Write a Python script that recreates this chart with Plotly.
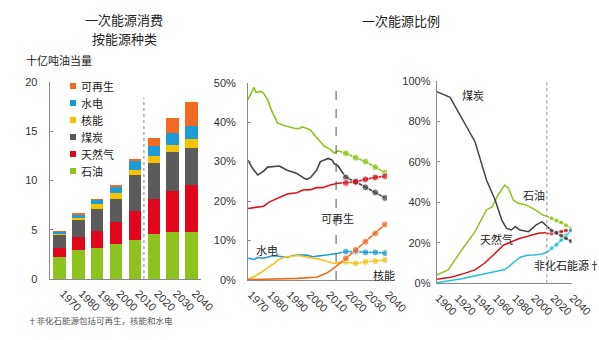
import plotly.graph_objects as go

W, H = 599, 340

# ---------------- data: left panel (billion toe) ----------------
bar_years = [1970, 1980, 1990, 2000, 2010, 2020, 2030, 2040]
bar_oil = [2.25, 2.95, 3.15, 3.53, 3.97, 4.54, 4.81, 4.75]
bar_gas = [0.90, 1.29, 1.73, 2.23, 2.91, 3.56, 4.17, 4.78]
bar_coal = [1.35, 1.76, 2.24, 2.34, 3.63, 3.66, 3.87, 3.72]
bar_nuclear = [0.02, 0.15, 0.47, 0.61, 0.58, 0.74, 0.78, 0.99]
bar_hydro = [0.33, 0.43, 0.50, 0.68, 0.85, 1.03, 1.18, 1.32]
bar_renew = [0.01, 0.02, 0.03, 0.06, 0.24, 0.74, 1.49, 2.44]

fuel_names = ["石油", "天然气", "煤炭", "核能", "水电", "可再生"]
fuel_colors = ["#8DC21F", "#E1061B", "#5B5B5B", "#F5C400", "#1E9AD6", "#F26A21"]

# ---------------- data: middle panel (share %, 1970-2040) ----------------
proj_years = [2020, 2025, 2030, 2035, 2040]

mid_oil_years = [1970, 1972, 1973, 1974, 1976, 1977, 1978, 1980, 1982, 1984, 1985, 1988,
                 1991, 1994, 1996, 1998, 2000, 2002, 2004, 2007, 2009, 2012, 2014, 2016]
mid_oil = [45.7, 47.7, 48.8, 47.5, 47.8, 47.7, 47.3, 45.7, 43.0, 40.9, 39.8, 39.2,
           38.8, 38.4, 38.4, 38.8, 38.4, 38.0, 36.7, 35.0, 33.9, 33.1, 32.2, 32.7]
proj_oil = [32.1, 31.0, 30.0, 28.6, 27.2]

mid_coal_years = [1970, 1972, 1975, 1978, 1980, 1984, 1986, 1990, 1995, 1999, 2000, 2002,
                  2005, 2007, 2011, 2013, 2014, 2016]
mid_coal = [30.4, 28.5, 26.6, 27.6, 28.6, 28.9, 28.9, 27.8, 27.0, 25.7, 25.5, 26.0,
            27.8, 30.0, 30.8, 30.4, 29.5, 28.9]
proj_coal = [26.0, 24.9, 23.5, 22.2, 20.8]

mid_gas_years = [1970, 1975, 1978, 1981, 1985, 1990, 1995, 1998, 2002, 2005, 2008, 2012, 2016]
mid_gas = [18.1, 18.4, 18.7, 19.8, 20.7, 21.8, 22.1, 22.8, 22.9, 23.4, 23.4, 24.1, 24.5]
proj_gas = [24.6, 24.9, 25.5, 26.0, 26.3]

mid_hydro_years = [1970, 1973, 1975, 1978, 1982, 1985, 1990, 1993, 1996, 2000, 2003, 2007, 2011, 2016]
mid_hydro = [5.5, 5.2, 5.7, 5.5, 6.1, 6.1, 5.7, 6.2, 6.3, 6.3, 5.9, 6.1, 6.4, 6.8]
proj_hydro = [7.2, 7.2, 7.0, 7.0, 6.8]

mid_nuclear_years = [1970, 1973, 1976, 1979, 1983, 1986, 1989, 1993, 1996, 2000, 2003, 2007, 2011, 2014, 2016]
mid_nuclear = [0.3, 0.8, 1.7, 2.7, 4.1, 5.3, 5.8, 6.1, 6.2, 5.8, 5.5, 5.2, 4.6, 4.2, 4.4]
proj_nuclear = [4.6, 4.2, 4.6, 4.8, 5.1]

mid_renew_years = [1970, 1985, 1995, 2005, 2010, 2013, 2016]
mid_renew = [0.1, 0.2, 0.4, 0.7, 1.7, 2.7, 4.0]
proj_renew = [5.5, 7.6, 9.7, 11.8, 14.1]

# ---------------- data: right panel (share %, 1900-2040) ----------------
r_coal_years = [1900, 1914, 1940, 1952, 1961, 1968, 1973, 1978, 1982, 1987, 1996, 2004, 2010, 2016]
r_coal = [94.6, 91.8, 69.9, 51.0, 41.1, 31.2, 27.1, 26.3, 28.0, 26.3, 25.5, 28.8, 30.4, 28.0]
r_oil_years = [1900, 1912, 1926, 1940, 1952, 1958, 1964, 1971, 1975, 1980, 1985, 1994, 2003, 2011, 2016]
r_oil = [4.1, 6.6, 16.4, 25.5, 36.2, 37.8, 43.6, 48.5, 46.9, 41.1, 39.5, 38.6, 36.2, 33.7, 32.9]
r_gas_years = [1900, 1915, 1929, 1940, 1950, 1961, 1970, 1978, 1987, 1996, 2006, 2013, 2016]
r_gas = [2.0, 3.0, 4.9, 6.6, 9.9, 14.8, 18.9, 20.5, 22.2, 23.3, 24.7, 25.0, 24.6]
r_nonfossil_years = [1900, 1926, 1943, 1961, 1971, 1976, 1982, 1988, 1995, 2002, 2010, 2016]
r_nonfossil = [0.3, 2.3, 4.0, 5.8, 6.8, 8.5, 11.0, 13.0, 13.8, 14.0, 14.5, 15.5]
proj_nonfossil = [17.3, 19.0, 21.3, 23.6, 26.0]

outlook_start = 2015

mid_ticks = [1970, 1980, 1990, 2000, 2010, 2020, 2030, 2040]
right_ticks = [1900, 1920, 1940, 1960, 1980, 2000, 2020, 2040]
bar_yticks = [0, 5, 10, 15, 20]
mid_yticks = [0, 10, 20, 30, 40, 50]
right_yticks = [0, 20, 40, 60, 80, 100]

# ---------------- helpers ----------------
def px(x):
    return x / W

def py(y):
    return 1 - y / H

FONT = "Liberation Sans, Arial, Noto Sans CJK SC, sans-serif"
CJK = "Noto Sans CJK SC, sans-serif"
TXT = "#222222"
AX = "#8a8a8a"

fig = go.Figure()

# left panel: stacked bars
bar_series = [bar_oil, bar_gas, bar_coal, bar_nuclear, bar_hydro, bar_renew]
for name, vals, col in zip(fuel_names, bar_series, fuel_colors):
    fig.add_trace(go.Bar(x=bar_years, y=vals, name=name, marker=dict(color=col, line=dict(width=0)),
                         width=6.6, xaxis="x", yaxis="y", showlegend=False))

# middle panel lines
mid_sets = [
    (mid_oil_years, mid_oil, proj_oil, "#8DC21F"),
    (mid_coal_years, mid_coal, proj_coal, "#444444"),
    (mid_gas_years, mid_gas, proj_gas, "#D7141E"),
    (mid_hydro_years, mid_hydro, proj_hydro, "#1E9AD6"),
    (mid_nuclear_years, mid_nuclear, proj_nuclear, "#F2C417"),
    (mid_renew_years, mid_renew, proj_renew, "#F26A21"),
]
for yrs, hist, proj, col in mid_sets:
    fig.add_trace(go.Scatter(
        x=yrs + proj_years, y=hist + proj, mode="lines+markers",
        line=dict(color=col, width=1.6),
        marker=dict(color=col, size=[0] * len(hist) + [7] * len(proj)),
        xaxis="x2", yaxis="y2", showlegend=False, hoverinfo="skip"))

# right panel lines
right_sets = [
    (r_oil_years, r_oil, proj_oil, "#8DC21F"),
    (r_gas_years, r_gas, proj_gas, "#D7141E"),
    (r_nonfossil_years, r_nonfossil, proj_nonfossil, "#22C3CF"),
    (r_coal_years, r_coal, proj_coal, "#444444"),
]
for yrs, hist, proj, col in right_sets:
    fig.add_trace(go.Scatter(
        x=yrs + proj_years, y=hist + proj, mode="lines+markers",
        line=dict(color=col, width=1.5),
        marker=dict(color=col, size=[0] * len(hist) + [5] * len(proj)),
        xaxis="x3", yaxis="y3", showlegend=False, hoverinfo="skip"))

tickfont = dict(family=FONT, size=11, color="#333333")

def xax(domain, rng, ticks, anchor, shift):
    return dict(domain=domain, range=rng, tickmode="array", tickvals=ticks,
                ticktext=[str(t) for t in ticks],
                tickangle=45, showline=True, linecolor=AX, linewidth=1, showgrid=False,
                zeroline=False, ticks="", tickfont=tickfont, anchor=anchor, fixedrange=True,
                ticklabelshift=shift, ticklabelstandoff=3, automargin=False,
                ticklabeloverflow="allow")

def yax(domain, rng, ticks, anchor, suffix="", standoff=8):
    return dict(domain=domain, range=rng, tickmode="array", tickvals=ticks,
                ticktext=[f"{t}{suffix}" for t in ticks],
                showline=True, linecolor=AX, linewidth=1, showgrid=False, zeroline=False,
                ticks="inside", ticklen=3, tickcolor=AX, tickfont=tickfont, anchor=anchor,
                ticklabelstandoff=standoff, fixedrange=True, automargin=False)

fig.update_layout(
    width=W, height=H, margin=dict(l=0, r=0, t=0, b=0, autoexpand=False),
    paper_bgcolor="white", plot_bgcolor="white", barmode="stack", bargap=0,
    showlegend=False,
    xaxis=xax([px(49.6), px(200.5)], [1965, 2045], bar_years, "y", 4),
    yaxis=yax([py(279), py(82)], [0, 20], bar_yticks, "x", standoff=9),
    xaxis2=xax([px(248), px(387)], [1970, 2041], mid_ticks, "y2", 3),
    yaxis2=yax([py(280), py(82.7)], [0, 50], mid_yticks, "x2", "%", standoff=9),
    xaxis3=xax([px(436.7), px(571.7)], [1900, 2041], right_ticks, "y3", 2),
    yaxis3=yax([py(283.3), py(80.7)], [0, 100], right_yticks, "x3", "%", standoff=3),
)

shapes = [
    dict(type="line", xref="x", yref="y", x0=outlook_start, x1=outlook_start, y0=0, y1=18.4,
         line=dict(color="#9a9a9a", width=1.2, dash="dot")),
    dict(type="line", xref="x2", yref="y2 domain", x0=outlook_start, x1=outlook_start, y0=0, y1=1,
         line=dict(color="#555555", width=1, dash="dash")),
    dict(type="line", xref="x3", yref="y3 domain", x0=outlook_start, x1=outlook_start, y0=0, y1=1,
         line=dict(color="#9a9a9a", width=1.2, dash="dot")),
]

annotations = []

def label(text, x, y, size=11, xanchor="center", color=TXT, family=CJK, yanchor="middle"):
    annotations.append(dict(text=text, x=px(x), y=py(y), xref="paper", yref="paper",
                            xanchor=xanchor, yanchor=yanchor, showarrow=False,
                            font=dict(family=family, size=size, color=color)))

# titles
label("一次能源消费", 124, 19.5, size=13)
label("按能源种类", 124, 38, size=13)
label("一次能源比例", 401, 20, size=13)
label("十亿吨油当量", 24, 60, size=11, xanchor="left")

# legend (top to bottom: reverse stacking order)
for i, (name, col) in enumerate(zip(reversed(fuel_names), reversed(fuel_colors))):
    yc = 86 + 17 * i
    shapes.append(dict(type="rect", xref="paper", yref="paper",
                       x0=px(70), x1=px(76), y0=py(yc + 3), y1=py(yc - 3),
                       fillcolor=col, line=dict(width=0)))
    label(name, 79, yc, size=11, xanchor="left")

# middle panel labels
label("可再生", 337, 218)
label("水电", 267, 250)
label("核能", 384, 275)

# right panel labels
label("煤炭", 473, 95)
label("石油", 534, 195)
label("天然气", 496, 239)
label("非化石能源†", 532, 265, xanchor="left")

# footnote
label("†非化石能源包括可再生，核能和水电", 26, 320, size=8.5, xanchor="left", color="#555555")

fig.update_layout(shapes=shapes, annotations=annotations)

fig.write_html("out.html")
